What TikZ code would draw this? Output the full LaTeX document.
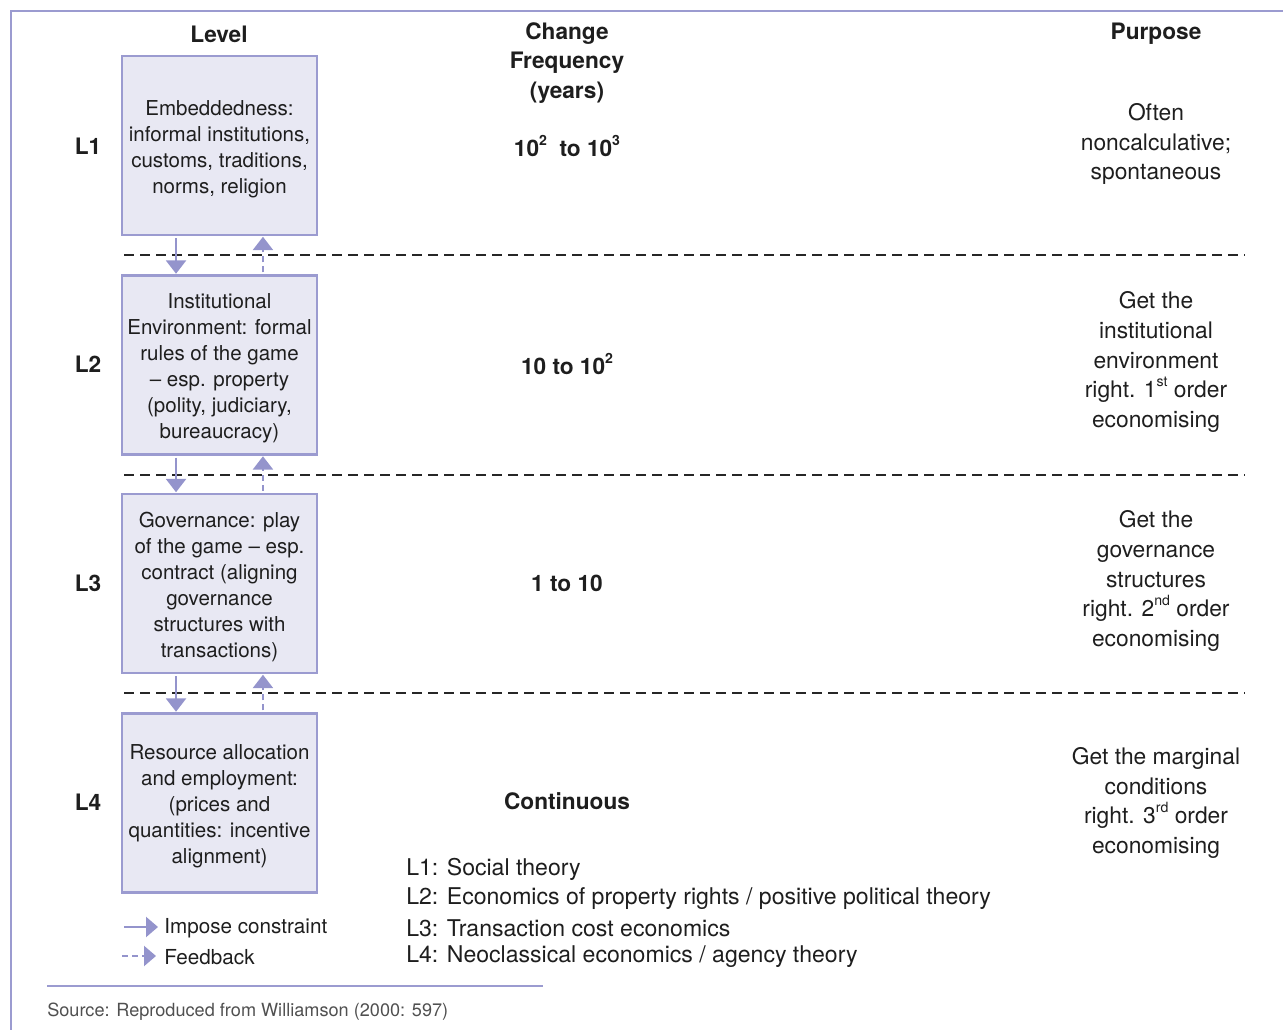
\documentclass[tikz,border=0pt]{standalone}
\usepackage{fontspec}
\setmainfont{TeX Gyre Heros}
\usetikzlibrary{arrows.meta}
\definecolor{lav}{RGB}{155,155,208}
\definecolor{lavarrow}{RGB}{148,148,204}
\definecolor{boxfill}{RGB}{232,232,243}
\definecolor{txt}{RGB}{30,30,30}
\definecolor{srcgray}{RGB}{80,80,80}
\newcommand{\supx}[1]{\raisebox{0.5em}{\fontsize{0.62em}{0.62em}\selectfont #1}}
\begin{document}
\begin{tikzpicture}[x=0.75pt,y=-0.75pt,
  levelbox/.style={draw=lav, fill=boxfill, line width=1.9pt, minimum width=146pt, minimum height=134pt, inner sep=0pt},
  boxtext/.style={align=center, inner sep=0pt, text=txt, font=\fontsize{15.4}{19.5}\selectfont},
  header/.style={align=center, text=txt, font=\bfseries\fontsize{17}{22}\selectfont},
  rowlabel/.style={text=txt, font=\bfseries\fontsize{17}{20}\selectfont},
  freq/.style={text=txt, font=\bfseries\fontsize{17}{20}\selectfont},
  purpose/.style={align=center, text=txt, font=\fontsize{17.1}{22.2}\selectfont},
  theory/.style={anchor=west, text=txt, inner sep=0pt, font=\fontsize{17.3}{20}\selectfont},
  legendtxt/.style={anchor=west, text=txt, inner sep=0pt, font=\fontsize{15.5}{18}\selectfont},
  separator/.style={black!85, line width=1.8pt, dash pattern=on 7.5pt off 4.5pt},
  impose/.style={draw=lavarrow, line width=1.6pt, -{Triangle[width=15pt,length=10pt]}},
  feedback/.style={draw=lavarrow, line width=1.6pt, dash pattern=on 4.5pt off 3pt, -{Triangle[width=15pt,length=10pt]}},
  frame/.style={draw=lav, line width=1.9pt}
]
\useasboundingbox (0,0) rectangle (1283,1030);
% frame
\draw[frame] (11,1031) -- (11,11) -- (1284,11);

% headers
\node[header] (hlevel) at (219,34) {Level};
\node[header] (hfreq) at (567,63) {Change\\Frequency\\(years)};
\node[header] (hpurp) at (1156,34) {Purpose};

% level boxes
\node[levelbox] (b1) at (219.5,145.5) {};
\node[levelbox] (b2) at (219.5,365) {};
\node[levelbox] (b3) at (219.5,583.5) {};
\node[levelbox] (b4) at (219.5,803) {};
\node[boxtext] (b1t) at ([yshift=-2.6pt]b1.center) {Embeddedness:\\informal institutions,\\customs, traditions,\\norms, religion};
\node[boxtext] (b2t) at ([yshift=-2.4pt]b2.center) {Institutional\\Environment: formal\\rules of the game\\– esp. property\\(polity, judiciary,\\bureaucracy)};
\node[boxtext] (b3t) at ([yshift=-2.4pt]b3.center) {Governance: play\\of the game – esp.\\contract (aligning\\governance\\structures with\\transactions)};
\node[boxtext] (b4t) at ([yshift=-2.6pt]b4.center) {Resource allocation\\and employment:\\(prices and\\quantities: incentive\\alignment)};

% row labels
\node[rowlabel] (l1) at (88,146) {L1};
\node[rowlabel] (l2) at (88,364) {L2};
\node[rowlabel] (l3) at (88,583) {L3};
\node[rowlabel] (l4) at (88,802) {L4};

% frequencies
\node[freq] (f1) at (567,146) {10\supx{2}\ \ to 10\supx{3}};
\node[freq] (f2) at (567,364) {10 to 10\supx{2}};
\node[freq] (f3) at (567,583) {1 to 10};
\node[freq] (f4) at (567,801) {Continuous};

% purposes
\node[purpose] (p1) at (1156,144) {Often\\noncalculative;\\spontaneous};
\node[purpose] (p2) at (1156,362) {Get the\\institutional\\environment\\right. 1\supx{st} order\\economising};
\node[purpose] (p3) at (1156,581) {Get the\\governance\\structures\\right. 2\supx{nd} order\\economising};
\node[purpose] (p4) at (1156,803) {Get the marginal\\conditions\\right. 3\supx{rd} order\\economising};

% separators
\draw[separator] (124,255) -- (1245,255);
\draw[separator] (124,475) -- (1245,475);
\draw[separator] (124,693) -- (1245,693);

% constraint / feedback arrows
\foreach \u/\l in {b1/b2,b2/b3,b3/b4}{
  \draw[impose, shorten <=1.5pt, shorten >=0.5pt] ([xshift=-32.6pt]\u.south) -- ([xshift=-32.6pt]\l.north);
  \draw[feedback, shorten <=1.5pt, shorten >=0.5pt] ([xshift=32.6pt]\l.north) -- ([xshift=32.6pt]\u.south);
}

% theories
\node[theory] (t1) at (406,869) {L1: Social theory};
\node[theory] (t2) at (406,899) {L2: Economics of property rights / positive political theory};
\node[theory] (t3) at (406,928) {L3: Transaction cost economics};
\node[theory] (t4) at (406,957) {L4: Neoclassical economics / agency theory};

% legend
\coordinate (lga) at (124,927);
\coordinate (lgb) at (158,927);
\coordinate (lgc) at (122,956);
\coordinate (lgd) at (156,956);
\draw[impose, -{Triangle[width=15pt,length=9pt]}] (lga) -- (lgb);
\draw[feedback, -{Triangle[width=15pt,length=9pt]}] (lgc) -- (lgd);
\node[legendtxt] (lg1) at (164,928) {Impose constraint};
\node[legendtxt] (lg2) at (164,957) {Feedback};

% source
\draw[draw=lav, line width=1.2pt] (47,986) -- (543,986);
\node[anchor=west, inner sep=0pt, text=srcgray, font=\fontsize{13.6}{15}\selectfont] (src) at (47,1012) {Source: Reproduced from Williamson (2000: 597)};
\end{tikzpicture}
\end{document}
